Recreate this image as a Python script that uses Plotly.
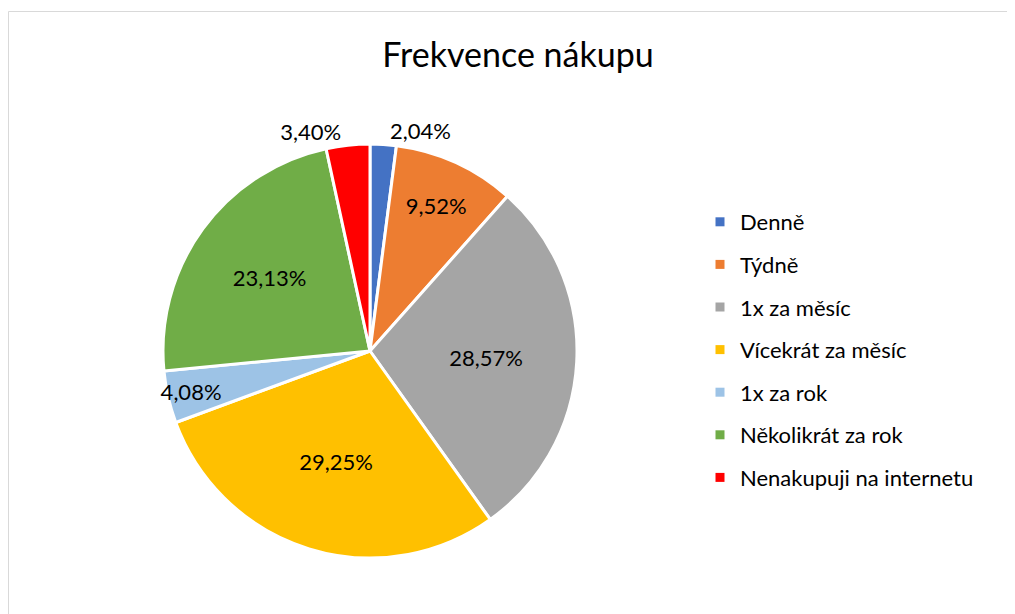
import plotly.graph_objects as go

categories = ["Denně", "Týdně", "1x za měsíc", "Vícekrát za měsíc",
              "1x za rok", "Několikrát za rok", "Nenakupuji na internetu"]
values = [2.04, 9.52, 28.57, 29.25, 4.08, 23.13, 3.40]
colors = ["#4472C4", "#ED7D31", "#A5A5A5", "#FFC000", "#9DC3E6", "#70AD47", "#FF0000"]
title_text = "Frekvence nákupu"

W, H = 1015, 614
FONT = "Lato, Carlito, Calibri, sans-serif"

fig = go.Figure()
fig.add_trace(go.Pie(
    labels=categories, values=values, sort=False, direction="clockwise", rotation=0,
    marker=dict(colors=colors, line=dict(color="white", width=3)),
    texttemplate="%{value:.2f}%",
    textposition=["outside", "inside", "inside", "inside", "inside", "inside", "outside"],
    insidetextorientation="horizontal",
    textfont=dict(family=FONT, size=22, color="#000000"),
    showlegend=False, hoverinfo="label+percent",
    domain=dict(x=[155 / W, 569 / W], y=[1 - 550 / H, 1 - 136 / H]),
))

for i, (c, col) in enumerate(zip(categories, colors)):
    fig.add_trace(go.Scatter(
        x=[None], y=[None], mode="markers", name=c, legendgroup=f"g{i}",
        marker=dict(symbol="square", size=9, color=col),
    ))

fig.update_layout(
    width=W, height=H, margin=dict(l=0, r=0, t=0, b=0),
    paper_bgcolor="white", plot_bgcolor="white",
    separators=",.",
    uniformtext=dict(minsize=22, mode="show"),
    title=dict(text=title_text, x=510 / W, xanchor="center", y=1 - 47 / H, yanchor="middle",
               font=dict(family=FONT, size=34, color="#000000")),
    xaxis=dict(visible=False), yaxis=dict(visible=False),
    legend=dict(x=692 / W, xanchor="left", y=1 - 193 / H, yanchor="top",
                font=dict(family=FONT, size=22, color="#000000"),
                tracegroupgap=11, itemclick=False, bgcolor="rgba(0,0,0,0)"),
    shapes=[dict(type="rect", xref="paper", yref="paper",
                 x0=0.5 / W, x1=1.01, y0=-0.01, y1=1 - 3.5 / H,
                 line=dict(color="#D9D9D9", width=1), fillcolor="rgba(0,0,0,0)")],
)

fig.write_html("out.html")
